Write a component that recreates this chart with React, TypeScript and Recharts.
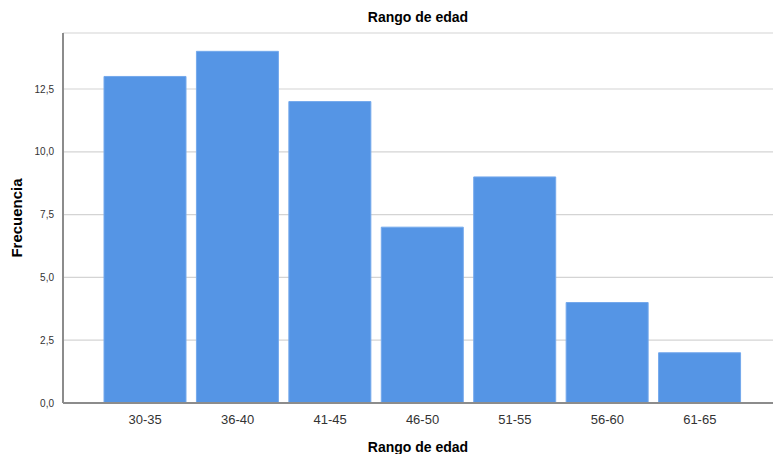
import React from "react";
import { BarChart, Bar, XAxis, YAxis, CartesianGrid, Label } from "recharts";

const categories = ["30-35", "36-40", "41-45", "46-50", "51-55", "56-60", "61-65"];
const frequencies = [13, 14, 12, 7, 9, 4, 2];
const yTicks = [0, 2.5, 5, 7.5, 10, 12.5];

const data = categories.map((c, i) => ({ name: c, value: frequencies[i] }));

const fmt = (v: number) => v.toFixed(1).replace(".", ",");

export default function App() {
  return (
    <div style={{ position: "absolute", left: 0, top: 0, fontFamily: "'Liberation Sans', Arial, sans-serif" }}>
      <div style={{ position: "absolute", left: 63, width: 710, top: 9, textAlign: "center", fontSize: 14, fontWeight: "bold", color: "#000" }}>
        Rango de edad
      </div>
      <BarChart
        width={773}
        height={454}
        data={data}
        margin={{ top: 33, right: 0, bottom: 0, left: 0 }}
        barCategoryGap={5}
      >
        <CartesianGrid horizontal vertical={false} stroke="#d4d4d4" strokeWidth={1.2} />
        <XAxis
          dataKey="name"
          height={51}
          padding={{ left: 36, right: 27 }}
          tickLine={false}
          axisLine={{ stroke: "#8c8c8c", strokeWidth: 2 }}
          tick={{ fill: "#333", fontSize: 13 }}
          tickMargin={6}
        >
          <Label value="Rango de edad" position="insideBottom" offset={2} style={{ fontSize: 14, fontWeight: "bold", fill: "#000" }} />
        </XAxis>
        <YAxis
          width={63}
          domain={[0, 14.73]}
          ticks={yTicks}
          tickFormatter={fmt}
          interval={0}
          tickLine={false}
          axisLine={{ stroke: "#8c8c8c", strokeWidth: 2 }}
          tick={{ fill: "#333", fontSize: 10 }}
          tickMargin={3}
        >
          <Label value="Frecuencia" angle={-90} position="insideLeft" offset={17} style={{ fontSize: 15, fontWeight: "bold", fill: "#000", textAnchor: "middle" }} />
        </YAxis>
        <Bar dataKey="value" fill="#5595e5" stroke="#74a9ec" strokeWidth={1} isAnimationActive={false} />
      </BarChart>
    </div>
  );
}
